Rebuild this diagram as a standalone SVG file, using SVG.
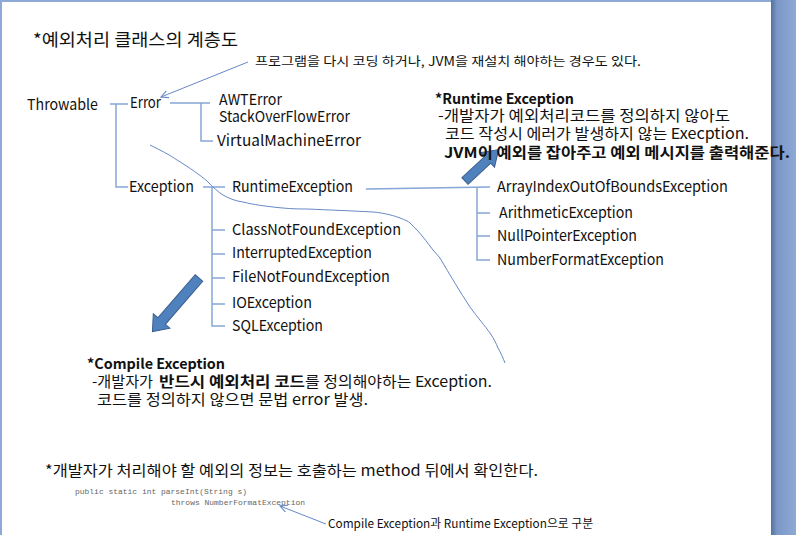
<svg xmlns="http://www.w3.org/2000/svg" width="796" height="535" viewBox="0 0 796 535">
<defs>
<linearGradient id="side" x1="0" y1="0" x2="1" y2="0">
<stop offset="0" stop-color="#56739f"/>
<stop offset="0.25" stop-color="#7b98c6"/>
<stop offset="1" stop-color="#8ea9d6"/>
</linearGradient>
<marker id="open" viewBox="0 0 10 10" refX="9" refY="5" markerWidth="9" markerHeight="9" markerUnits="userSpaceOnUse" orient="auto">
<path d="M1,1 L9,5 L1,9" fill="none" stroke="#6688c4" stroke-width="1.2"/>
</marker>
<style>
text{font-family:"Noto Sans CJK KR","Noto Sans",sans-serif;fill:#111;}
.lbl{font-size:15px;}
.kr{font-size:15px;}
.b{font-weight:bold;}
.code{font-family:"Liberation Mono",monospace;font-size:8px;fill:#666;}
.tree{fill:none;stroke:#85a6d6;stroke-width:1.5;}
.thin{fill:none;stroke:#6688c4;stroke-width:1;}
.fat{fill:#4f81bd;stroke:#3a5f8f;stroke-width:1;}
</style>
</defs>
<rect x="0" y="0" width="796" height="535" fill="#8ea9d6"/>
<rect x="771" y="0" width="25" height="535" fill="url(#side)"/>
<rect x="2" y="2" width="769" height="533" fill="#ffffff"/>

<g id="title"><text x="33" y="46" style="font-size:17px" textLength="205" lengthAdjust="spacingAndGlyphs">*예외처리 클래스의 계층도</text></g>
<g id="note-error"><text x="255" y="66" style="font-size:12.5px" textLength="386" lengthAdjust="spacingAndGlyphs">프로그램을 다시 코딩 하거나, JVM을 재설치 해야하는 경우도 있다.</text></g>

<g id="connectors">
<path class="tree" d="M110,104 H128 M116,104 V187 H128"/>
<path class="tree" d="M170,103 H210 M201,103 V141 H213"/>
<path class="tree" d="M203,187 H225 M212,187 V326 H225 M212,230 H225 M212,254 H225 M212,278 H225 M212,304 H225"/>
<path class="tree" d="M366,189 L490,187 M477,188 V260 H490 M477,213 H490 M477,236 H490"/>
<path class="thin" d="M248,62 L161,97" marker-end="url(#open)"/>
<path class="thin" d="M326,524 L280,506" marker-end="url(#open)"/>
<path class="thin" d="M150,145 C160,150 170,155 177,160 C190,168 200,175 207,181 C213,187 218,192 223,195 C230,199 236,201 243,202 C255,205 265,206 273,207 C290,209 300,209 307,209 C330,210 355,211 373,212 C385,213 395,216 400,218 C405,220 408,221 410,223 C416,229 420,233 423,237 C427,242 430,246 433,250 L440,258 C450,275 460,292 470,307 C478,318 485,326 490,333 C494,339 496,343 498,348 C501,353 503,358 505,363"/>
<polygon class="fat" transform="translate(465,181) rotate(-43)" points="0,-4.5 31,-4.5 31,-10 46,0 31,10 31,4.5 0,4.5"/>
<polygon class="fat" transform="translate(199,278) rotate(131)" points="0,-5 57,-5 57,-11 71,0 57,11 57,5 0,5"/>
</g>

<g id="throwable"><text class="lbl" x="27" y="110" textLength="71" lengthAdjust="spacingAndGlyphs">Throwable</text></g>
<g id="error"><text class="lbl" x="130" y="108" textLength="31" lengthAdjust="spacingAndGlyphs">Error</text></g>
<g id="awterror"><text class="lbl" x="219" y="105" textLength="63" lengthAdjust="spacingAndGlyphs">AWTError</text></g>
<g id="stackoverflowerror"><text class="lbl" x="219" y="122" textLength="131" lengthAdjust="spacingAndGlyphs">StackOverFlowError</text></g>
<g id="virtualmachineerror"><text class="lbl" x="217" y="146" textLength="144" lengthAdjust="spacingAndGlyphs">VirtualMachineError</text></g>
<g id="exception"><text class="lbl" x="129" y="192" textLength="65" lengthAdjust="spacingAndGlyphs">Exception</text></g>
<g id="runtimeexception"><text class="lbl" x="232" y="192" textLength="121" lengthAdjust="spacingAndGlyphs">RuntimeException</text></g>
<g id="classnotfound"><text class="lbl" x="232" y="235" textLength="169" lengthAdjust="spacingAndGlyphs">ClassNotFoundException</text></g>
<g id="interrupted"><text class="lbl" x="232" y="258" textLength="140" lengthAdjust="spacingAndGlyphs">InterruptedException</text></g>
<g id="filenotfound"><text class="lbl" x="232" y="282" textLength="158" lengthAdjust="spacingAndGlyphs">FileNotFoundException</text></g>
<g id="ioexception"><text class="lbl" x="232" y="308" textLength="80" lengthAdjust="spacingAndGlyphs">IOException</text></g>
<g id="sqlexception"><text class="lbl" x="232" y="331" textLength="91" lengthAdjust="spacingAndGlyphs">SQLException</text></g>
<g id="arrayindex"><text class="lbl" x="497" y="192" textLength="231" lengthAdjust="spacingAndGlyphs">ArrayIndexOutOfBoundsException</text></g>
<g id="arithmetic"><text class="lbl" x="499" y="218" textLength="134" lengthAdjust="spacingAndGlyphs">ArithmeticException</text></g>
<g id="nullpointer"><text class="lbl" x="497" y="241" textLength="140" lengthAdjust="spacingAndGlyphs">NullPointerException</text></g>
<g id="numberformat"><text class="lbl" x="497" y="265" textLength="167" lengthAdjust="spacingAndGlyphs">NumberFormatException</text></g>

<g id="runtime-note">
<text class="b" x="435" y="104" style="font-size:14px" textLength="139" lengthAdjust="spacingAndGlyphs">*Runtime Exception</text>
<text class="kr" x="438" y="121" textLength="292" lengthAdjust="spacingAndGlyphs">-개발자가 예외처리코드를 정의하지 않아도</text>
<text class="kr" x="445" y="139" textLength="304" lengthAdjust="spacingAndGlyphs">코드 작성시 에러가 발생하지 않는 Execption.</text>
<text class="kr b" x="444" y="158" textLength="346" lengthAdjust="spacingAndGlyphs">JVM이 예외를 잡아주고 예외 메시지를 출력해준다.</text>
</g>

<g id="compile-note">
<text class="b" x="87" y="369" style="font-size:14px" textLength="138" lengthAdjust="spacingAndGlyphs">*Compile Exception</text>
<text class="kr" y="387"><tspan x="92" textLength="61" lengthAdjust="spacingAndGlyphs">-개발자가</tspan><tspan class="b" x="159" textLength="146" lengthAdjust="spacingAndGlyphs">반드시 예외처리 코드</tspan><tspan x="305" textLength="187" lengthAdjust="spacingAndGlyphs">를 정의해야하는 Exception.</tspan></text>
<text class="kr" x="97" y="405" textLength="271" lengthAdjust="spacingAndGlyphs">코드를 정의하지 않으면 문법 error 발생.</text>
</g>

<g id="method-note">
<text class="kr" x="45" y="476" textLength="493" lengthAdjust="spacingAndGlyphs">*개발자가 처리해야 할 예외의 정보는 호출하는 method 뒤에서 확인한다.</text>
<text class="code" x="75" y="494" textLength="172" lengthAdjust="spacingAndGlyphs">public static int parseInt(String s)</text>
<text class="code" x="171" y="505" textLength="134" lengthAdjust="spacingAndGlyphs">throws NumberFormatException</text>
<text x="328" y="528" style="font-size:12px" textLength="265" lengthAdjust="spacingAndGlyphs">Compile Exception과 Runtime Exception으로 구분</text>
</g>
</svg>
